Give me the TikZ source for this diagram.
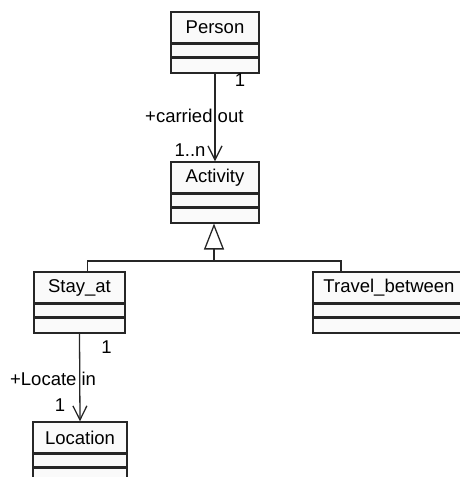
\documentclass[tikz,border=0pt]{standalone}
\usepackage{fontspec}
\setmainfont{Liberation Sans}
\usepackage{tikz}
\usetikzlibrary{arrows.meta, positioning}

\begin{document}
\begin{tikzpicture}[
    x=0.03cm, y=-0.03cm,
    font=\fontsize{15.8}{18}\selectfont,
    clsname/.style={rectangle, draw=black!85, fill=black!2, line width=1.2pt, minimum height=0.93cm, inner sep=0pt},
    clsattr/.style={rectangle, draw=black!85, fill=black!2, line width=1.2pt, minimum height=0.36cm, inner sep=0pt},
    clsops/.style={rectangle, draw=black!85, fill=black!2, line width=1.2pt, minimum height=0.45cm, inner sep=0pt},
    assoc/.style={-{Straight Barb[length=0.42cm, width=0.42cm]}, draw=black!85, line width=1.1pt},
    genline/.style={draw=black!85, line width=1.1pt},
    lbl/.style={inner sep=1pt}
]
\useasboundingbox (0,0) rectangle (460,477);

%% ── Classes (name / attributes / operations) ──────────────────────────
\node[clsname, minimum width=2.64cm] (person) at (215,27.5) {Person};
\node[clsattr, minimum width=2.64cm, below=0pt of person]   (person-a) {};
\node[clsops,  minimum width=2.64cm, below=0pt of person-a] (person-o) {};

\node[clsname, minimum width=2.64cm] (activity) at (215,177.5) {Activity};
\node[clsattr, minimum width=2.64cm, below=0pt of activity]   (activity-a) {};
\node[clsops,  minimum width=2.64cm, below=0pt of activity-a] (activity-o) {};

\node[clsname, minimum width=2.73cm] (stayat) at (79.5,287.5) {Stay\_at};
\node[clsattr, minimum width=2.73cm, below=0pt of stayat]   (stayat-a) {};
\node[clsops,  minimum width=2.73cm, below=0pt of stayat-a] (stayat-o) {};

\node[clsname, minimum width=4.56cm] (travel) at (389,287.5) {Travel\_between};
\node[clsattr, minimum width=4.56cm, below=0pt of travel]   (travel-a) {};
\node[clsops,  minimum width=4.56cm, below=0pt of travel-a] (travel-o) {};

\node[clsname, minimum width=2.82cm] (location) at (80,437.5) {Location};
\node[clsattr, minimum width=2.82cm, below=0pt of location]   (location-a) {};
\node[clsops,  minimum width=2.82cm, below=0pt of location-a] (location-o) {};

%% ── Associations ──────────────────────────────────────────────────────
\draw[assoc] (person-o.south) --
    node[lbl, pos=0.08, xshift=0.75cm]{1}
    node[lbl, pos=0.48, xshift=-0.62cm]{+carried out}
    node[lbl, pos=0.87, xshift=-0.75cm]{1..n} (activity.north);

\draw[assoc] (stayat-o.south) --
    node[lbl, pos=0.16, xshift=0.81cm]{1}
    node[lbl, pos=0.52, xshift=-0.8cm]{+Locate in}
    node[lbl, pos=0.82, xshift=-0.6cm]{1} (location.north);

%% ── Generalisation ────────────────────────────────────────────────────
\coordinate (gen) at (214,261);
\draw[genline] ([xshift=0.23cm]stayat.north) |- (gen);
\draw[genline] ([xshift=-1.44cm]travel.north) |- (gen);
\draw[genline, -{Triangle[open, fill=white, length=0.78cm, width=0.6cm]}] (gen) -- (gen |- activity-o.south);

\end{tikzpicture}
\end{document}
